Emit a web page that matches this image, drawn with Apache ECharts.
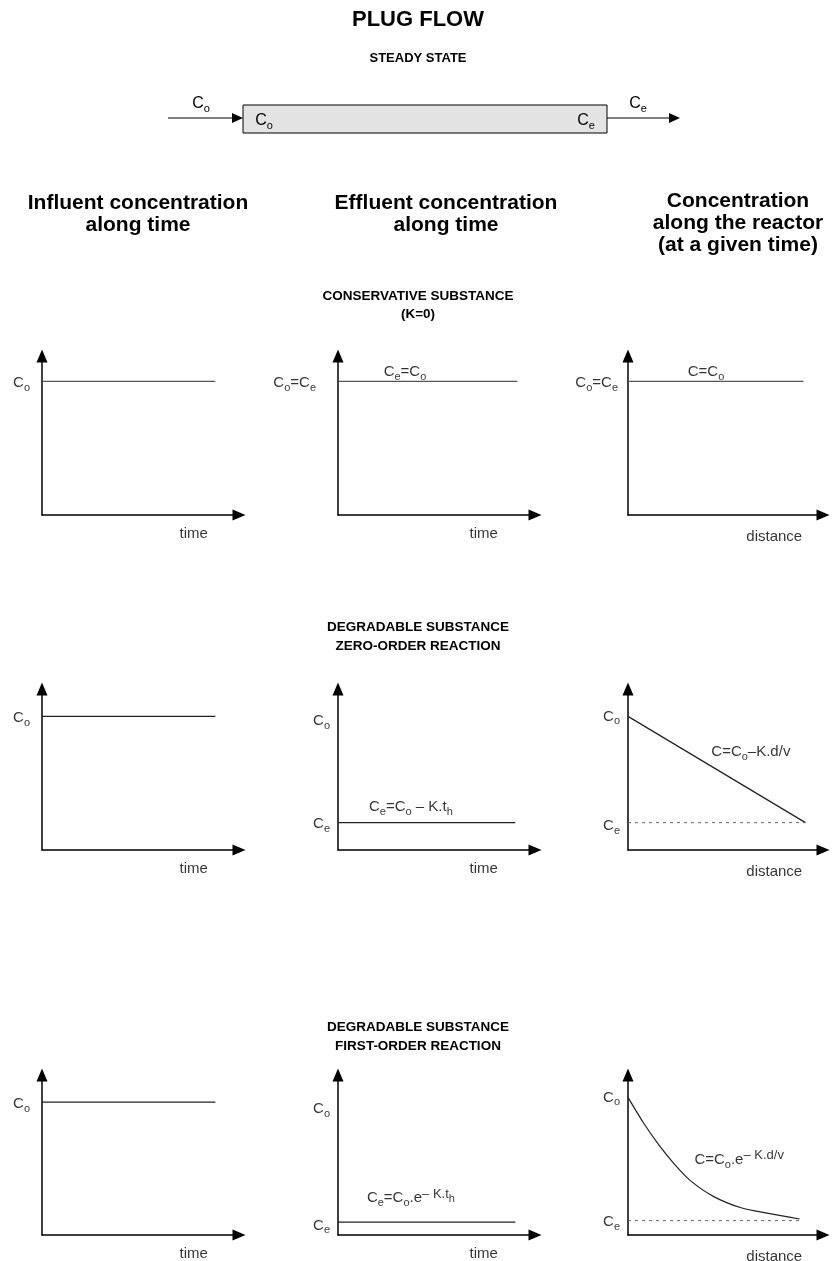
<!DOCTYPE html>
<html>
<head>
<meta charset="utf-8">
<title>Plug flow</title>
<script src="https://cdn.jsdelivr.net/npm/echarts@6/dist/echarts.min.js"></script>
<style>
  html, body { margin: 0; padding: 0; background: #fff; }
  #chart { width: 836px; height: 1261px; }
</style>
</head>
<body>
<div id="chart"></div>
<script>
// each panel runs 0..100 on both axes (time or distance vs concentration)
const consInfluent = [[0, 84], [88, 84]]
const consEffluent = [[0, 84], [91, 84]]
const consProfile = [[0, 84], [90, 84]]

const zeroInfluent = [[0, 83], [88, 83]]
const zeroEffluent = [[0, 17], [90, 17]]
const zeroProfile = [[0, 83], [91, 17]]
const zeroProfileCe = [[0, 17], [91, 17]]

const firstInfluent = [[0, 83], [88, 83]]
const firstEffluent = [[0, 8], [90, 8]]
const firstProfile = [[0, 86], [8, 70], [16, 56], [24, 44], [32, 34], [44, 24], [58, 17], [72, 13.5], [88, 10]]
const firstProfileCe = [[0, 9], [88, 9]]

const columnTitles = [
  'Influent concentration\nalong time',
  'Effluent concentration\nalong time',
  'Concentration\nalong the reactor\n(at a given time)'
]
const sectionTitles = [
  'CONSERVATIVE SUBSTANCE\n(K=0)',
  'DEGRADABLE SUBSTANCE\nZERO-ORDER REACTION',
  'DEGRADABLE SUBSTANCE\nFIRST-ORDER REACTION'
]
const axisNames = ['time', 'time', 'distance']

const FONT = '"Liberation Sans", Arial, Helvetica, sans-serif'

// panel frames in pixels: axis origin x, grid top, width, height
const colLeft = [42, 338, 628]
const colWidth = [197, 197, 195]
const rowTop = [356, 689, 1075]
const rowHeight = [159, 161, 160]

// text put next to the curves (value coords of the panel)
const panels = [
  // row 1
  { lines: [consInfluent], notes: [
    { at: [0, 83], text: 'C{s|o}', pos: 'left', d: 12 }] },
  { lines: [consEffluent], notes: [
    { at: [0, 83], text: 'C{s|o}=C{s|e}', pos: 'left', d: 22 },
    { at: [34, 90], text: 'C{s|e}=C{s|o}', pos: 'inside' }] },
  { lines: [consProfile], notes: [
    { at: [0, 83], text: 'C{s|o}=C{s|e}', pos: 'left', d: 10 },
    { at: [40, 90], text: 'C=C{s|o}', pos: 'inside' }] },
  // row 2
  { lines: [zeroInfluent], notes: [
    { at: [0, 82], text: 'C{s|o}', pos: 'left', d: 12 }] },
  { lines: [zeroEffluent], notes: [
    { at: [0, 80], text: 'C{s|o}', pos: 'left', d: 8 },
    { at: [0, 16], text: 'C{s|e}', pos: 'left', d: 8 },
    { at: [37, 27], text: 'C{s|e}=C{s|o} – K.t{s|h}', pos: 'inside' }] },
  { lines: [zeroProfile], dotted: zeroProfileCe, notes: [
    { at: [0, 83], text: 'C{s|o}', pos: 'left', d: 8 },
    { at: [0, 15], text: 'C{s|e}', pos: 'left', d: 8 },
    { at: [63, 61], text: 'C=C{s|o}–K.d/v', pos: 'inside' }] },
  // row 3
  { lines: [firstInfluent], notes: [
    { at: [0, 82], text: 'C{s|o}', pos: 'left', d: 12 }] },
  { lines: [firstEffluent], notes: [
    { at: [0, 79], text: 'C{s|o}', pos: 'left', d: 8 },
    { at: [0, 6], text: 'C{s|e}', pos: 'left', d: 8 },
    { at: [37, 23], text: 'C{s|e}=C{s|o}.e{p|– K.t}{ph|h}', pos: 'inside' }] },
  { lines: [firstProfile], dotted: firstProfileCe, smooth: true, notes: [
    { at: [0, 86], text: 'C{s|o}', pos: 'left', d: 8 },
    { at: [0, 8], text: 'C{s|e}', pos: 'left', d: 8 },
    { at: [57, 47], text: 'C=C{s|o}.e{p|– K.d/v}', pos: 'inside' }] }
]

const rich = {
  s: { fontSize: 11, lineHeight: 11, verticalAlign: 'bottom', fontFamily: FONT, color: '#000' },
  p: { fontSize: 13, lineHeight: 13, verticalAlign: 'top', fontFamily: FONT, color: '#000' },
  ph: { fontSize: 11, lineHeight: 11, verticalAlign: 'top', padding: [6, 0, 0, 0], fontFamily: FONT, color: '#000' }
}

const grid = []
const xAxis = []
const yAxis = []
const series = []

panels.forEach((p, i) => {
  const row = Math.floor(i / 3)
  const col = i % 3
  grid.push({ left: colLeft[col], top: rowTop[row], width: colWidth[col], height: rowHeight[row] })
  const axisLine = {
    show: true,
    onZero: false,
    symbol: ['none', 'triangle'],
    symbolSize: [11, 13],
    lineStyle: { color: '#000', width: 1.5 }
  }
  xAxis.push({
    gridIndex: i, type: 'value', min: 0, max: 100,
    axisLine, axisTick: { show: false }, axisLabel: { show: false }, splitLine: { show: false }
  })
  yAxis.push({
    gridIndex: i, type: 'value', min: 0, max: 100,
    axisLine, axisTick: { show: false }, axisLabel: { show: false }, splitLine: { show: false }
  })
  p.lines.forEach(d => {
    series.push({
      type: 'line', xAxisIndex: i, yAxisIndex: i, data: d,
      showSymbol: false, smooth: p.smooth ? 0.3 : false, silent: true,
      lineStyle: { color: row === 0 ? '#555' : '#222', width: 1.2 }
    })
  })
  if (p.dotted) {
    series.push({
      type: 'line', xAxisIndex: i, yAxisIndex: i, data: p.dotted,
      showSymbol: false, silent: true,
      lineStyle: { color: '#666', width: 1, type: [3, 4] }
    })
  }
  const notes = p.notes.concat([
    { at: [col === 2 ? 75 : (col === 0 ? 77 : 74), 0], text: axisNames[col], pos: 'bottom', d: col === 2 ? 11 : 8 }
  ])
  series.push({
    type: 'scatter', xAxisIndex: i, yAxisIndex: i, symbolSize: 0, silent: true, clip: false,
    data: notes.map(n => ({
      name: n.text,
      value: n.at,
      label: {
        show: true,
        position: n.pos,
        distance: n.d || 0,
        formatter: pr => pr.name,
        fontSize: 15,
        lineHeight: 21,
        fontFamily: FONT,
        color: '#000',
        rich
      }
    }))
  })
})

function text(x, y, str, size, bold, lh) {
  return {
    type: 'text', x, y,
    style: {
      text: str, fontSize: size, fontWeight: bold ? 'bold' : 'normal', fontFamily: FONT,
      textAlign: 'center', textVerticalAlign: 'middle', lineHeight: lh || size + 4, fill: '#000', rich
    }
  }
}

const graphic = [
  text(418, 20, 'PLUG FLOW', 22, true),
  text(418, 58, 'STEADY STATE', 13, true),
  // reactor sketch
  { type: 'rect', shape: { x: 243, y: 105, width: 364, height: 28 },
    style: { fill: '#e3e3e3', stroke: '#000', lineWidth: 1 } },
  { type: 'line', shape: { x1: 168, y1: 118, x2: 236, y2: 118 }, style: { stroke: '#000', lineWidth: 1.2 } },
  { type: 'polygon', shape: { points: [[232, 113], [243, 118], [232, 123]] }, style: { fill: '#000' } },
  { type: 'line', shape: { x1: 607, y1: 118, x2: 672, y2: 118 }, style: { stroke: '#000', lineWidth: 1.2 } },
  { type: 'polygon', shape: { points: [[669, 113], [680, 118], [669, 123]] }, style: { fill: '#000' } },
  text(201, 104, 'C{s|o}', 16, false, 21),
  text(264, 121, 'C{s|o}', 16, false, 21),
  text(586, 121, 'C{s|e}', 16, false, 21),
  text(638, 104, 'C{s|e}', 16, false, 21),
  // column heads
  text(138, 214, columnTitles[0], 21, true, 22),
  text(446, 214, columnTitles[1], 21, true, 22),
  text(738, 223, columnTitles[2], 21, true, 22),
  // sections
  text(418, 305, sectionTitles[0], 13.5, true, 18),
  text(418, 637, sectionTitles[1], 13.5, true, 19),
  text(418, 1037, sectionTitles[2], 13.5, true, 19)
]

const chart = echarts.init(document.getElementById('chart'), null, { renderer: 'canvas' })
chart.setOption({
  backgroundColor: '#fff',
  animation: false,
  grid,
  xAxis,
  yAxis,
  series,
  graphic
})
</script>
</body>
</html>
